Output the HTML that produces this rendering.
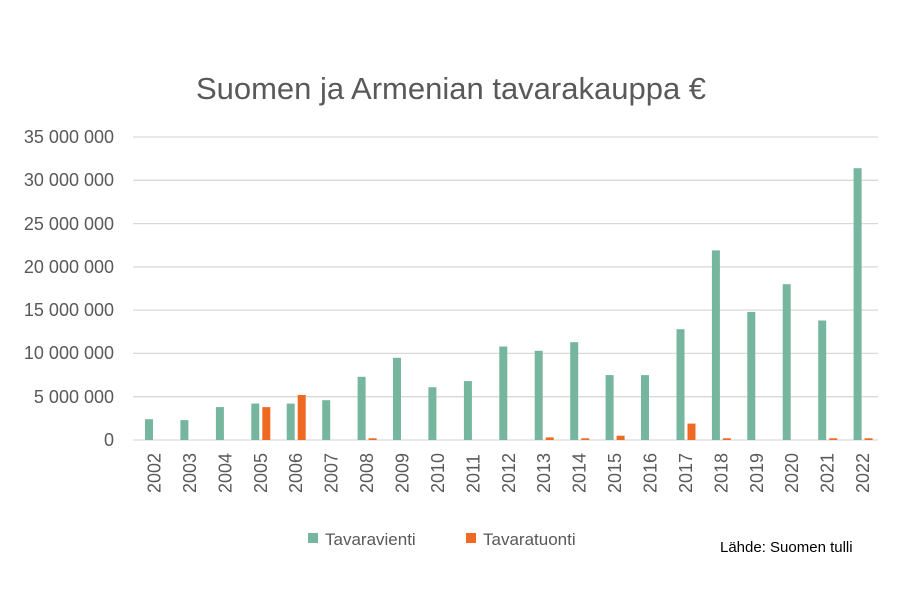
<!DOCTYPE html>
<html><head><meta charset="utf-8"><style>body{margin:0;background:#fff}svg{display:block}</style></head>
<body>
<svg width="900" height="600" xmlns="http://www.w3.org/2000/svg" font-family="Liberation Sans, sans-serif">
<rect width="900" height="600" fill="#fff"/>
<text x="451" y="99" text-anchor="middle" font-size="31" fill="#595959">Suomen ja Armenian tavarakauppa €</text>
<g stroke="#d9d9d9" stroke-width="1.3">
<line x1="133" x2="878" y1="137" y2="137"/><line x1="133" x2="878" y1="180.3" y2="180.3"/>
<line x1="133" x2="878" y1="223.6" y2="223.6"/><line x1="133" x2="878" y1="266.9" y2="266.9"/>
<line x1="133" x2="878" y1="310.1" y2="310.1"/><line x1="133" x2="878" y1="353.4" y2="353.4"/>
<line x1="133" x2="878" y1="396.7" y2="396.7"/><line x1="133" x2="878" y1="440" y2="440"/>
</g>
<g font-size="18" fill="#595959" text-anchor="end">
<text x="114" y="143">35 000 000</text><text x="114" y="186">30 000 000</text>
<text x="114" y="230">25 000 000</text><text x="114" y="273">20 000 000</text>
<text x="114" y="316">15 000 000</text><text x="114" y="359">10 000 000</text>
<text x="114" y="403">5 000 000</text><text x="114" y="446">0</text>
</g>
<g fill="#76b59e">
<rect x="145.0" y="419.2" width="8" height="20.8"/>
<rect x="180.4" y="420.1" width="8" height="19.9"/>
<rect x="215.9" y="407.1" width="8" height="32.9"/>
<rect x="251.3" y="403.6" width="8" height="36.4"/>
<rect x="286.7" y="403.6" width="8" height="36.4"/>
<rect x="322.2" y="400.2" width="8" height="39.8"/>
<rect x="357.6" y="376.8" width="8" height="63.2"/>
<rect x="393.0" y="357.8" width="8" height="82.2"/>
<rect x="428.4" y="387.2" width="8" height="52.8"/>
<rect x="463.9" y="381.1" width="8" height="58.9"/>
<rect x="499.3" y="346.5" width="8" height="93.5"/>
<rect x="534.7" y="350.8" width="8" height="89.2"/>
<rect x="570.2" y="342.2" width="8" height="97.8"/>
<rect x="605.6" y="375.1" width="8" height="64.9"/>
<rect x="641.0" y="375.1" width="8" height="64.9"/>
<rect x="676.5" y="329.2" width="8" height="110.8"/>
<rect x="711.9" y="250.4" width="8" height="189.6"/>
<rect x="747.3" y="311.9" width="8" height="128.1"/>
<rect x="782.7" y="284.2" width="8" height="155.8"/>
<rect x="818.2" y="320.5" width="8" height="119.5"/>
<rect x="853.6" y="168.2" width="8" height="271.8"/>
</g>
<g fill="#ee6a22">
<rect x="262.3" y="407.1" width="8" height="32.9"/>
<rect x="297.7" y="395.0" width="8" height="45.0"/>
<rect x="368.6" y="438.3" width="8" height="1.7"/>
<rect x="545.7" y="437.4" width="8" height="2.6"/>
<rect x="581.2" y="438.3" width="8" height="1.7"/>
<rect x="616.6" y="435.7" width="8" height="4.3"/>
<rect x="687.5" y="423.6" width="8" height="16.4"/>
<rect x="722.9" y="438.3" width="8" height="1.7"/>
<rect x="829.2" y="438.3" width="8" height="1.7"/>
<rect x="864.6" y="438.3" width="8" height="1.7"/>
</g>
<g font-size="18" fill="#595959">
<text transform="translate(160.5,493) rotate(-90)">2002</text>
<text transform="translate(195.9,493) rotate(-90)">2003</text>
<text transform="translate(231.4,493) rotate(-90)">2004</text>
<text transform="translate(266.8,493) rotate(-90)">2005</text>
<text transform="translate(302.2,493) rotate(-90)">2006</text>
<text transform="translate(337.7,493) rotate(-90)">2007</text>
<text transform="translate(373.1,493) rotate(-90)">2008</text>
<text transform="translate(408.5,493) rotate(-90)">2009</text>
<text transform="translate(443.9,493) rotate(-90)">2010</text>
<text transform="translate(479.4,493) rotate(-90)">2011</text>
<text transform="translate(514.8,493) rotate(-90)">2012</text>
<text transform="translate(550.2,493) rotate(-90)">2013</text>
<text transform="translate(585.7,493) rotate(-90)">2014</text>
<text transform="translate(621.1,493) rotate(-90)">2015</text>
<text transform="translate(656.5,493) rotate(-90)">2016</text>
<text transform="translate(692.0,493) rotate(-90)">2017</text>
<text transform="translate(727.4,493) rotate(-90)">2018</text>
<text transform="translate(762.8,493) rotate(-90)">2019</text>
<text transform="translate(798.2,493) rotate(-90)">2020</text>
<text transform="translate(833.7,493) rotate(-90)">2021</text>
<text transform="translate(869.1,493) rotate(-90)">2022</text>
</g>
<rect x="308" y="533" width="10" height="10" fill="#76b59e"/>
<text x="325" y="545" font-size="17" fill="#595959">Tavaravienti</text>
<rect x="466" y="533" width="10" height="10" fill="#ee6a22"/>
<text x="483" y="545" font-size="17" fill="#595959">Tavaratuonti</text>
<text x="720" y="552" font-size="15" fill="#000">Lähde: Suomen tulli</text>
</svg>
</body></html>
